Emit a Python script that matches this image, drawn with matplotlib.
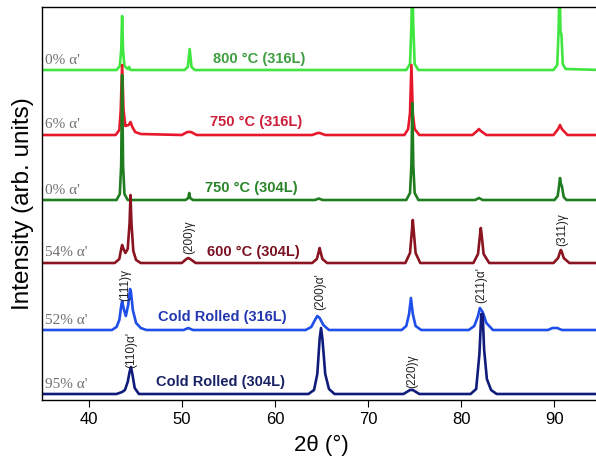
import matplotlib
matplotlib.use("Agg")
import matplotlib.pyplot as plt

plt.rcParams["font.family"] = ["Liberation Sans", "DejaVu Sans"]

# vertical offsets of each pattern (arb. units)
offsets = [330, 265, 200, 137, 70, 6]

line_colors = ["#3fe63f", "#e8182c", "#1f7d1f", "#8a1420", "#1f4ee8", "#101c7c"]
text_colors = ["#3f9e3f", "#cc1f3a", "#2a842a", "#7a1222", "#2438b0", "#1a2266"]

sample_names = [
    "800 °C (316L)",
    "750 °C (316L)",
    "750 °C (304L)",
    "600 °C (304L)",
    "Cold Rolled (316L)",
    "Cold Rolled (304L)",
]
alpha_fracs = ["0% α'", "6% α'", "0% α'", "54% α'", "52% α'", "95% α'"]
name_x = [53.4, 53.0, 52.5, 52.75, 47.4, 47.2]
name_dy = [11, 13, 12, 11, 13, 12]

# pattern vertices (2theta, intensity above baseline)
x_800_316 = [35, 43.0, 43.35, 43.5, 43.6, 43.7, 43.85, 44.2, 44.35, 44.5, 50.3, 50.65,
             50.85, 51.05, 51.4, 74.1, 74.5, 74.65, 74.75, 74.85, 75.0, 75.4, 89.9,
             90.3, 90.45, 90.55, 90.65, 90.75, 90.9, 91.2, 95]
y_800_316 = [0, 0, 4, 20, 54, 20, 4, 1, 3, 0, 0, 3, 21, 3, 0, 0, 6, 45, 95, 45, 6, 0, 0,
             5, 40, 95, 38, 36, 6, 1, 0]

x_750_316 = [35, 42.9, 43.3, 43.45, 43.6, 43.75, 43.95, 44.3, 44.5, 44.7, 45.0, 45.6,
             50.0, 50.6, 50.8, 51.0, 51.6, 64.0, 64.6, 64.8, 65.4, 73.9, 74.3, 74.5,
             74.65, 74.8, 75.0, 75.5, 81.2, 81.7, 81.9, 82.1, 82.7, 89.9, 90.4, 90.6,
             90.8, 91.4, 95]
y_750_316 = [0, 0, 5, 25, 70, 25, 9, 10, 13, 8, 3, 1, 0, 3, 3, 3, 0, 0, 2, 2, 0, 0, 6,
             22, 70, 22, 6, 0, 0, 4, 6, 4, 0, 0, 6, 10, 6, 0, 0]

x_750_304 = [35, 43.0, 43.35, 43.5, 43.6, 43.7, 43.85, 44.2, 50.4, 50.7, 50.8, 50.9,
             51.2, 64.3, 64.7, 65.1, 74.1, 74.5, 74.65, 74.75, 74.85, 75.0, 75.4, 81.5,
             81.9, 82.3, 90.0, 90.35, 90.5, 90.6, 90.7, 90.8, 91.0, 91.3, 95]
y_750_304 = [0, 0, 6, 35, 125, 35, 6, 0, 0, 2, 7, 2, 0, 0, 1.5, 0, 0, 7, 35, 97, 35, 7,
             0, 0, 2, 0, 0, 4, 14, 22, 16, 14, 3, 0, 0]

x_600_304 = [35, 42.8, 43.3, 43.5, 43.6, 43.75, 43.95, 44.2, 44.4, 44.5, 44.6, 44.8,
             45.1, 45.6, 50.0, 50.5, 50.7, 50.9, 51.5, 64.0, 64.5, 64.7, 64.8, 64.9,
             65.1, 65.6, 74.0, 74.5, 74.7, 74.8, 74.9, 75.1, 75.6, 81.3, 81.8, 82.0,
             82.1, 82.2, 82.4, 83.0, 89.9, 90.4, 90.6, 90.7, 90.8, 91.0, 91.6, 95]
y_600_304 = [0, 0, 4, 14, 18, 14, 10, 14, 40, 68, 40, 12, 3, 0, 0, 4, 5, 4, 0, 0, 4, 11,
             15, 11, 4, 0, 0, 10, 32, 43, 32, 10, 0, 0, 9, 27, 35, 27, 9, 0, 0, 5, 11,
             13, 11, 5, 0, 0]

x_cr_316 = [35, 42.5, 43.0, 43.3, 43.5, 43.6, 43.75, 44.0, 44.25, 44.45, 44.55, 44.75,
            45.1, 45.6, 46.2, 50.2, 50.7, 51.2, 63.3, 63.9, 64.3, 64.55, 64.8, 65.2,
            65.8, 73.6, 74.1, 74.4, 74.6, 74.8, 75.1, 75.7, 80.8, 81.4, 81.8, 82.0,
            82.3, 82.7, 83.4, 89.3, 89.8, 90.3, 90.8, 95]
y_cr_316 = [0, 0, 3, 10, 24, 29, 22, 14, 25, 41, 38, 20, 7, 2, 0, 0, 2, 0, 0, 3, 10, 14,
            12, 5, 0, 0, 4, 16, 32, 16, 4, 0, 0, 4, 14, 22, 18, 7, 0, 0, 2, 2, 0, 0]

x_cr_304 = [35, 43.0, 43.6, 43.9, 44.2, 44.4, 44.55, 44.7, 44.95, 45.4, 63.6, 64.2,
            64.55, 64.8, 64.95, 65.1, 65.4, 65.8, 66.4, 73.8, 74.5, 74.8, 75.5, 81.0,
            81.6, 81.95, 82.15, 82.3, 82.45, 82.75, 83.2, 83.8, 95]
y_cr_304 = [0, 0, 2, 4, 12, 22, 27, 20, 6, 0, 0, 4, 20, 55, 66, 55, 20, 5, 0, 0, 4, 4,
            0, 0, 5, 40, 80, 80, 45, 15, 4, 0, 0]

patterns_x = [x_800_316, x_750_316, x_750_304, x_600_304, x_cr_316, x_cr_304]
patterns_y = [y_800_316, y_750_316, y_750_304, y_600_304, y_cr_316, y_cr_304]

# peak labels: text, 2theta, vertical centre
peak_labels = ["(111)γ", "(200)γ", "(110)α'", "(200)α'", "(220)γ", "(211)α'", "(311)γ"]
peak_x = [43.9, 50.8, 44.6, 64.85, 74.75, 82.2, 90.8]
peak_y = [115, 163, 50, 108, 29, 115, 170]

fig = plt.figure(figsize=(5.96, 4.66), dpi=100)
ax = fig.add_axes([42 / 596, 1 - 400 / 466, (601 - 42) / 596, 393 / 466])

for xs, ys, off, col in zip(patterns_x, patterns_y, offsets, line_colors):
    ax.plot(xs, [v + off for v in ys], color=col, linewidth=1.9)

for name, frac, nx, dy, off, tcol in zip(sample_names, alpha_fracs, name_x, name_dy,
                                         offsets, text_colors):
    ax.text(nx, off + dy, name, color=tcol, fontsize=10.5, fontweight="bold",
            ha="left", va="center")
    ax.text(35.35, off + 10, frac, color="#707070", fontsize=11,
            family=["Liberation Serif", "DejaVu Serif"], ha="left", va="center")

for lab, px, py in zip(peak_labels, peak_x, peak_y):
    ax.text(px, py, lab, rotation=90, fontsize=8.5, color="#222222",
            ha="center", va="center")

ax.set_xlim(35, 95)
ax.set_ylim(0, 393)
ax.set_xticks([40, 50, 60, 70, 80, 90])
ax.set_yticks([])
ax.tick_params(axis="x", direction="out", length=5, labelsize=12)
ax.set_xlabel("2θ (°)", fontsize=16, labelpad=6)
ax.set_ylabel("Intensity (arb. units)", fontsize=17.5, labelpad=6)
for s in ax.spines.values():
    s.set_linewidth(1.0)

fig.savefig("out.png", dpi=100)
